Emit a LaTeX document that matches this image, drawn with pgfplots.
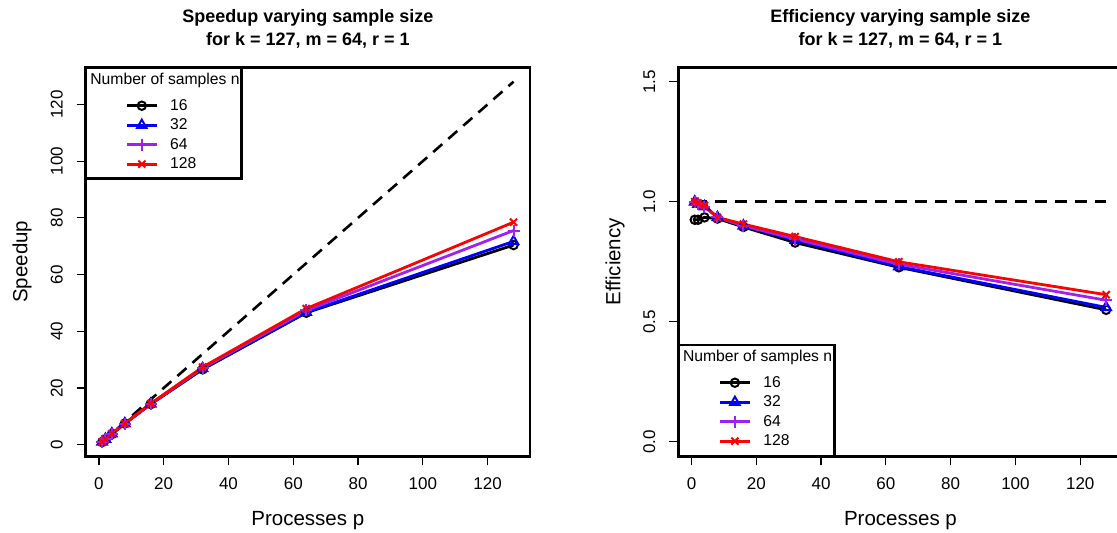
\documentclass[border=0pt]{standalone}
\usepackage{fontspec}
\setmainfont{Liberation Sans}
\usepackage{pgfplots}
\pgfplotsset{compat=1.18}
\definecolor{rpurple}{HTML}{A020F0}

\pgfplotstableread{
p    e16    e32    e64    e128   s16    s32    s64    s128
1    0.925  1.000  1.000  1.000  0.925  1.00   1.00   1.00
2    0.925  0.990  0.990  0.995  1.85   1.98   1.98   1.99
4    0.935  0.980  0.980  0.985  3.74   3.92   3.92   3.94
8    0.930  0.935  0.935  0.935  7.44   7.48   7.48   7.48
16   0.895  0.900  0.900  0.907  14.32  14.40  14.40  14.51
32   0.830  0.840  0.845  0.855  26.56  26.88  27.04  27.36
64   0.727  0.730  0.740  0.750  46.53  46.72  47.36  48.00
128  0.550  0.560  0.590  0.613  70.40  71.68  75.52  78.46
}\datatable

\pgfplotsset{
  rstyle/.style={
    scale only axis, width=444.3pt, height=389pt,
    anchor=south west,
    axis line style={line width=2.6pt, black},
    xmin=-4.08, xmax=133.08,
    xtick={0,20,...,120},
    tick align=outside, xtick pos=bottom, ytick pos=left,
    major tick length=9pt,
    tick style={line width=1.2pt, black},
    tick label style={font=\fontsize{17}{20}\selectfont},
    /pgf/number format/assume math mode=true,
    xticklabel style={anchor=center, inner sep=0pt, yshift=-18.7pt},
    yticklabel style={rotate=90, anchor=center, inner sep=0pt, yshift=20pt},
    legend image code/.code={
      \draw[mark repeat=2,mark phase=2] plot coordinates {(0pt,0pt) (15pt,0pt) (30pt,0pt)};
    },
    legend cell align=left,
  },
  ser16/.style={black, line width=2.8pt, mark=o, mark size=4.2pt, mark options={line width=2pt, solid}},
  ser32/.style={blue, line width=2.8pt, mark=triangle, mark size=5.5pt, mark options={line width=2pt, solid}},
  ser64/.style={rpurple, line width=2.8pt, mark=+, mark size=6pt, mark options={line width=2pt, solid}},
  ser128/.style={red, line width=2.8pt, mark=x, mark size=5pt, mark options={line width=2pt, solid}},
}

\begin{document}
\begin{tikzpicture}
% ---------------- left: speedup ----------------
\begin{axis}[rstyle,
  at={(85.7pt,76.7pt)},
  ymin=-4.08, ymax=133.08,
  ytick={0,20,...,120},
  legend style={draw=none, fill=none, at={(0,1)}, anchor=north west,
    xshift=39.5pt, yshift=-32pt, inner sep=0pt, row sep=7pt, column sep=12pt,
    font=\fontsize{15.7}{18}\selectfont, nodes={inner sep=0pt}},
]
\addplot[black, line width=2.6pt, dash pattern=on 12pt off 8pt, forget plot] coordinates {(1,1) (128,128)};
\addplot[ser16] table[x=p, y=s16] {\datatable};
\addplot[ser32] table[x=p, y=s32] {\datatable};
\addplot[ser64] table[x=p, y=s64] {\datatable};
\addplot[ser128] table[x=p, y=s128] {\datatable};
\legend{16,32,64,128}
\end{axis}

% ---------------- right: efficiency ----------------
\begin{axis}[rstyle,
  at={(678.3pt,76.7pt)},
  ymin=-0.06, ymax=1.56,
  ytick={0,0.5,1,1.5},
  yticklabel style={/pgf/number format/.cd, fixed, fixed zerofill, precision=1},
  legend style={draw=none, fill=none, at={(0,1)}, anchor=north west,
    xshift=40pt, yshift=-309pt, inner sep=0pt, row sep=7pt, column sep=12pt,
    font=\fontsize{15.7}{18}\selectfont, nodes={inner sep=0pt}},
]
\addplot[black, line width=2.6pt, dash pattern=on 12pt off 8pt, forget plot] coordinates {(1,1) (128,1)};
\addplot[ser16] table[x=p, y=e16] {\datatable};
\addplot[ser32] table[x=p, y=e32] {\datatable};
\addplot[ser64] table[x=p, y=e64] {\datatable};
\addplot[ser128] table[x=p, y=e128] {\datatable};
\legend{16,32,64,128}
\end{axis}

% legend boxes and titles
\draw[line width=2.6pt] (85.7pt,465.7pt) rectangle (241.7pt,354.2pt);
\draw[line width=2.6pt] (678.3pt,188pt) rectangle (834.3pt,76.7pt);
\node[font=\fontsize{15.7}{18}\selectfont] at (165pt,453pt) {Number of samples n};
\node[font=\fontsize{15.7}{18}\selectfont] at (757.6pt,175.3pt) {Number of samples n};

% titles
\node[font=\fontsize{18}{22}\selectfont\bfseries] at (307.85pt,515pt) {Speedup varying sample size};
\node[font=\fontsize{18}{22}\selectfont\bfseries] at (307.85pt,493pt) {for k = 127, m = 64, r = 1};
\node[font=\fontsize{18}{22}\selectfont\bfseries] at (900.45pt,515pt) {Efficiency varying sample size};
\node[font=\fontsize{18}{22}\selectfont\bfseries] at (900.45pt,493pt) {for k = 127, m = 64, r = 1};

% axis labels
\node[font=\fontsize{20.5}{24}\selectfont] at (307.85pt,12pt) {Processes p};
\node[font=\fontsize{20.5}{24}\selectfont] at (900.45pt,12pt) {Processes p};
\node[font=\fontsize{20.5}{24}\selectfont, rotate=90] at (22pt,271.2pt) {Speedup};
\node[font=\fontsize{20.5}{24}\selectfont, rotate=90] at (615pt,271.2pt) {Efficiency};

\pgfresetboundingbox
\useasboundingbox (0pt,0pt) rectangle (1117pt,533pt);
\end{tikzpicture}
\end{document}
